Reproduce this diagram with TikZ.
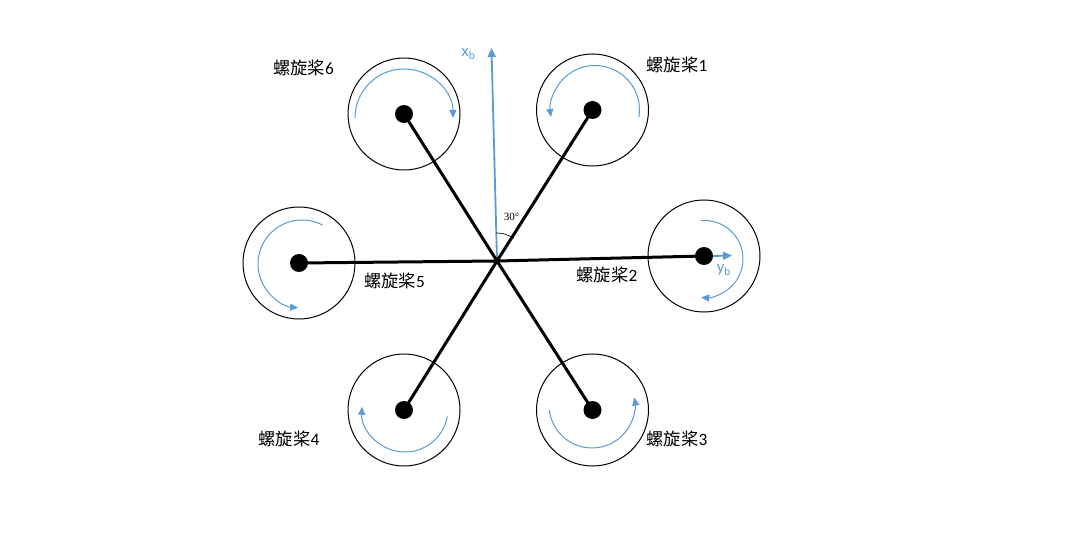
\documentclass[tikz,border=0pt]{standalone}
\usepackage{fontspec}
\setmainfont{Carlito}
\newfontfamily\cjk{Noto Sans CJK SC}
\newfontfamily\serifnum{Liberation Serif}
\usetikzlibrary{arrows.meta}
\definecolor{axisblue}{HTML}{5B9BD5}
\newcommand{\propname}[1]{{\cjk 螺旋桨}#1}
\tikzset{
  x=1pt,y=1pt,
  rotor/.style={circle,draw=black,line width=1pt,minimum size=112pt,inner sep=0pt,fill=none},
  hub/.style={circle,fill=black,minimum size=18pt,inner sep=0pt},
  spoke/.style={line width=3pt,black},
  axisline/.style={line width=1.8pt,axisblue,-{Stealth[length=9pt,width=8pt,inset=0pt]}},
  spin/.style={line width=1pt,axisblue,-{Stealth[length=8pt,width=7pt,inset=0pt]}},
  proplabel/.style={font=\fontsize{17.3}{19}\selectfont,inner sep=0pt,text=black},
  axislabel/.style={font=\fontsize{16.5}{18}\selectfont,inner sep=0pt,text=axisblue},
}
\begin{document}
\begin{tikzpicture}
\useasboundingbox[fill=white] (0,0) rectangle (1074,547);
\coordinate (c) at (497,286);
\coordinate (xtip) at (491.5,499);
\coordinate (ytip) at (732,291.5);
% rotors
\node[rotor] (r1) at (592.5,437) {};
\node[rotor] (r2) at (704,291) {};
\node[rotor] (r3) at (592.5,137) {};
\node[rotor] (r4) at (404,137) {};
\node[rotor] (r5) at (299,284) {};
\node[rotor] (r6) at (404,433) {};
% axes
\draw[axisline] (c) -- (xtip);
% spokes
\draw[spoke] (c) -- (r1.center);
\draw[spoke] (c) -- (r2.center);
\draw[spoke] (c) -- (r3.center);
\draw[spoke] (c) -- (r4.center);
\draw[spoke] (c) -- (r5.center);
\draw[spoke] (c) -- (r6.center);
% hubs
\node[hub] (h1) at (r1.center) {};
\node[hub] (h2) at (r2.center) {};
\node[hub] (h3) at (r3.center) {};
\node[hub] (h4) at (r4.center) {};
\node[hub] (h5) at (r5.center) {};
\node[hub] (h6) at (r6.center) {};
\draw[axisline] (h2.east) -- (ytip);
% rotation arrows
\draw[spin] (595,437) ++(-9:44.5) arc[start angle=-9,end angle=189,radius=44.5];
\draw[spin] (404,429) ++(180:49) arc[start angle=180,end angle=0,radius=49];
\draw[spin] (704.5,288) ++(95:38.5) arc[start angle=95,end angle=-95,radius=38.5];
\draw[spin] (592,142) ++(187:43) arc[start angle=187,end angle=370,radius=43];
\draw[spin] (405,138) ++(-10:43) arc[start angle=-10,end angle=-183,radius=43];
\draw[spin] (302,283) ++(62:44) arc[start angle=62,end angle=265,radius=44];
% angle mark
\draw[line width=0.7pt,black] (c) ++(92:28) arc[start angle=92,end angle=54,radius=28];
\node[inner sep=0pt,font=\serifnum\fontsize{11}{13}\selectfont] (ang) at (511.5,330) {30°};
% labels
\node[proplabel] (l1) at (677,482) {\propname{1}};
\node[proplabel] (l2) at (607,272) {\propname{2}};
\node[proplabel] (l3) at (677,108) {\propname{3}};
\node[proplabel] (l4) at (289,108) {\propname{4}};
\node[proplabel] (l5) at (394.5,266) {\propname{5}};
\node[proplabel] (l6) at (303.5,479) {\propname{6}};
\node[axislabel] (lx) at (468.5,493) {x\textsubscript{b}};
\node[axislabel] (ly) at (724,277) {y\textsubscript{b}};
\end{tikzpicture}
\end{document}
